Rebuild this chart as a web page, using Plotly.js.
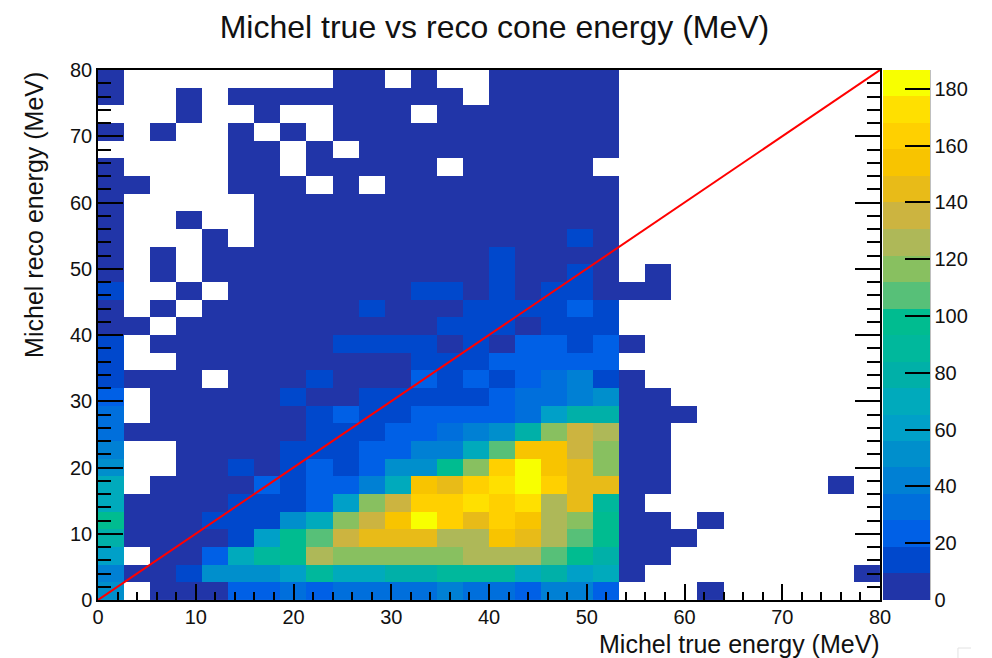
<!DOCTYPE html>
<html>
<head>
<meta charset="utf-8">
<script src="https://cdn.plot.ly/plotly-3.0.1.min.js"></script>
<style>html,body{margin:0;padding:0;background:#fff}#chart{width:992px;height:658px}</style>
</head>
<body>
<div id="chart"></div>
<script>
var _ = null;
var r00 = [51,_,3,3,3,23,23,33,23,33,33,33,33,42,33,33,23,42,42,23,_,_,_,3,_,_,_,_,_,_];
var r01 = [42,3,3,14,51,51,51,61,89,70,70,79,79,89,89,89,70,79,61,70,3,_,_,_,_,_,_,_,_,3];
var r02 = [61,_,3,3,23,70,89,98,126,117,117,117,117,117,126,126,126,107,98,79,3,3,_,_,_,_,_,_,_,_];
var r03 = [79,3,3,3,3,14,61,98,107,135,145,145,145,126,126,154,145,126,107,98,3,3,3,_,_,_,_,_,_,_];
var r04 = [98,3,3,3,14,14,14,51,70,117,135,154,182,163,145,163,154,126,117,98,3,3,_,3,_,_,_,_,_,_];
var r05 = [70,3,3,3,3,14,14,14,23,61,117,135,163,163,173,163,173,126,145,89,3,_,_,_,_,_,_,_,_,_];
var r06 = [70,_,3,3,3,3,23,14,23,23,42,70,154,145,163,173,182,163,145,145,3,3,_,_,_,_,_,_,3,_];
var r07 = [51,_,_,3,3,14,3,14,23,14,23,51,51,98,117,163,182,154,145,117,3,3,_,_,_,_,_,_,_,_];
var r08 = [42,_,_,3,3,3,3,14,14,14,23,23,42,42,70,107,154,154,135,117,3,3,_,_,_,_,_,_,_,_];
var r09 = [33,3,3,3,3,3,3,3,14,14,14,23,23,33,42,51,79,117,135,126,3,3,_,_,_,_,_,_,_,_];
var r10 = [33,_,3,3,3,3,3,3,14,23,14,14,23,23,23,23,33,61,79,79,3,3,3,_,_,_,_,_,_,_];
var r11 = [23,_,3,3,3,3,3,14,3,3,14,14,14,14,14,23,33,33,42,51,3,3,_,_,_,_,_,_,_,_];
var r12 = [14,3,3,3,_,3,3,3,14,3,3,3,23,14,23,14,23,33,42,14,3,_,_,_,_,_,_,_,_,_];
var r13 = [14,_,_,3,3,3,3,3,3,3,3,3,14,14,14,23,23,23,23,23,_,_,_,_,_,_,_,_,_,_];
var r14 = [14,_,3,3,3,3,3,3,3,14,14,14,14,3,14,3,23,23,14,23,3,_,_,_,_,_,_,_,_,_];
var r15 = [3,3,_,3,3,3,3,3,3,3,3,3,3,14,14,14,3,14,14,14,_,_,_,_,_,_,_,_,_,_];
var r16 = [3,_,3,_,3,3,3,3,3,3,14,3,3,3,14,14,14,14,23,14,_,_,_,_,_,_,_,_,_,_];
var r17 = [14,_,_,3,_,3,3,3,3,3,3,3,14,14,3,14,3,14,14,3,3,3,_,_,_,_,_,_,_,_];
var r18 = [3,_,3,_,3,3,3,3,3,3,3,3,3,3,3,14,3,3,14,3,_,3,_,_,_,_,_,_,_,_];
var r19 = [3,_,3,_,3,3,3,3,3,3,3,3,3,3,3,14,3,3,3,3,_,_,_,_,_,_,_,_,_,_];
var r20 = [3,_,_,_,3,_,3,3,3,3,3,3,3,3,3,3,3,3,14,3,_,_,_,_,_,_,_,_,_,_];
var r21 = [3,_,_,3,_,_,3,3,3,3,3,3,3,3,3,3,3,3,3,3,_,_,_,_,_,_,_,_,_,_];
var r22 = [3,_,_,_,_,_,3,3,3,3,3,3,3,3,3,3,3,3,3,3,_,_,_,_,_,_,_,_,_,_];
var r23 = [3,3,_,_,_,3,3,3,_,3,_,3,3,3,3,3,3,3,3,3,_,_,_,_,_,_,_,_,_,_];
var r24 = [3,_,_,_,_,3,3,_,3,3,3,3,3,_,3,3,3,3,3,_,_,_,_,_,_,_,_,_,_,_];
var r25 = [_,_,_,_,_,3,3,_,3,_,3,3,3,3,3,3,3,3,3,3,_,_,_,_,_,_,_,_,_,_];
var r26 = [3,_,3,_,_,3,_,3,_,3,3,3,3,3,3,3,3,3,3,3,_,_,_,_,_,_,_,_,_,_];
var r27 = [_,_,_,3,_,_,3,_,_,3,3,3,_,3,3,3,3,3,3,3,_,_,_,_,_,_,_,_,_,_];
var r28 = [3,_,_,3,_,3,3,3,3,3,3,3,3,3,_,3,3,3,3,3,_,_,_,_,_,_,_,_,_,_];
var r29 = [3,_,_,_,_,_,_,_,_,3,3,_,3,_,_,3,3,3,3,3,_,_,_,_,_,_,_,_,_,_];

var counts = [r00,r01,r02,r03,r04,r05,r06,r07,r08,r09,r10,r11,r12,r13,r14,r15,r16,r17,r18,r19,r20,r21,r22,r23,r24,r25,r26,r27,r28,r29];

var binCentres = [1.33,4,6.67,9.33,12,14.67,17.33,20,22.67,25.33,28,30.67,33.33,36,38.67,41.33,44,46.67,49.33,52,54.67,57.33,60,62.67,65.33,68,70.67,73.33,76,78.67];
var diagonalX = [0,80];
var diagonalY = [0,80];
var paletteColours = ['#2135a8','#0048cc','#0060e6','#006fdc','#0080d4','#008fcc','#00a0c8','#00aabc','#00b0a8','#00b89c','#00bc90','#57c078','#88c060','#aeb858','#ccb440','#e8bb18','#f8c400','#ffd000','#ffe000','#f8ff00'];
var barTicks = [0,20,40,60,80,100,120,140,160,180];
var zTop = 186.6;

var stepped = [];
paletteColours.forEach(function(c,i){
  stepped.push([i/paletteColours.length,c]);
  stepped.push([(i+1)/paletteColours.length,c]);
});

var sans = '"Liberation Sans", Arial, sans-serif';

Plotly.newPlot('chart',[
  {
    type:'heatmap', x:binCentres, y:binCentres, z:counts,
    zmin:0, zmax:zTop, colorscale:stepped, hoverongaps:false,
    colorbar:{
      thicknessmode:'pixels', thickness:47, lenmode:'fraction', len:1,
      x:1.0038, xanchor:'left', xpad:0, y:0, yanchor:'bottom', ypad:0,
      outlinewidth:0, borderwidth:0,
      tickmode:'array', tickvals:barTicks, ticktext:barTicks.map(String),
      ticks:'inside', ticklen:25, tickwidth:1.5, tickcolor:'#000',
      tickfont:{family:sans,size:20,color:'#111'}
    }
  },
  {
    type:'scatter', mode:'lines', x:diagonalX, y:diagonalY,
    line:{color:'#ff0000',width:2}, showlegend:false, hoverinfo:'skip'
  }
],{
  width:992, height:658, paper_bgcolor:'#fff', plot_bgcolor:'#fff',
  margin:{l:98,r:112,t:70,b:58,pad:0,autoexpand:false},
  showlegend:false,
  font:{family:sans,color:'#111'},
  title:{text:'Michel true vs reco cone energy (MeV)',font:{family:sans,size:32,color:'#111'},
         x:0.507,xref:'paper',xanchor:'center',y:0.959,yanchor:'middle'},
  xaxis:{range:[0,80],dtick:10,tick0:0,ticks:'inside',ticklen:16,tickwidth:1.5,tickcolor:'#000',
         minor:{dtick:2,tick0:0,ticks:'inside',ticklen:8,tickwidth:1.5,tickcolor:'#000'},
         showgrid:false,zeroline:false,showline:true,linecolor:'#000',linewidth:1.5,mirror:true,
         ticklabelstandoff:-2,
         tickfont:{family:sans,size:20,color:'#111'},layer:'above traces',fixedrange:true},
  yaxis:{range:[0,80],dtick:10,tick0:0,ticks:'inside',ticklen:25,tickwidth:1.5,tickcolor:'#000',
         minor:{dtick:2,tick0:0,ticks:'inside',ticklen:13,tickwidth:1.5,tickcolor:'#000'},
         showgrid:false,zeroline:false,showline:true,linecolor:'#000',linewidth:1.5,mirror:'ticks',
         tickfont:{family:sans,size:20,color:'#111'},layer:'above traces',fixedrange:true},
  shapes:[
    {type:'line',xref:'paper',yref:'paper',x0:1.0633,x1:1.0633,y0:0,y1:1,line:{color:'#000',width:1.5},layer:'above'},
    {type:'line',xref:'paper',yref:'paper',x0:1.0997,x1:1.1164,y0:-0.0906,y1:-0.0906,line:{color:'#e2e2e2',width:1},layer:'above'},
    {type:'line',xref:'paper',yref:'paper',x0:1.0997,x1:1.0997,y0:-0.0906,y1:-0.1094,line:{color:'#e2e2e2',width:1},layer:'above'}
  ],
  annotations:[
    {text:'Michel true energy (MeV)',xref:'paper',yref:'paper',x:1.002,y:-0.0835,xanchor:'right',yanchor:'middle',
     showarrow:false,font:{family:sans,size:25,color:'#111'}},
    {text:'Michel reco energy (MeV)',xref:'paper',yref:'paper',x:-0.082,y:1,xanchor:'center',yanchor:'top',
     textangle:-90,showarrow:false,font:{family:sans,size:25,color:'#111'}}
  ]
},{displayModeBar:false,responsive:false});
</script>
</body>
</html>
